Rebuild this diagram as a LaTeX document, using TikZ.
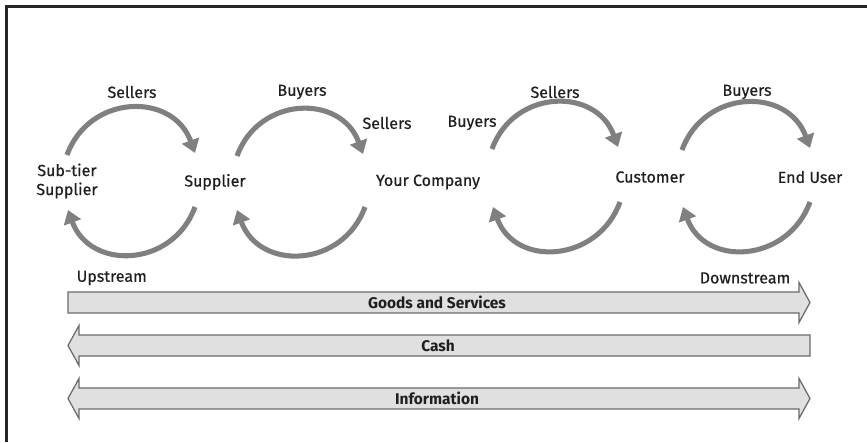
\documentclass[tikz,border=0pt]{standalone}
\usepackage{fontspec}
\setmainfont{Fira Sans}
\newfontfamily\medfont{Fira Sans}[FakeBold=0.6]
\usetikzlibrary{arrows.meta}
\definecolor{flowgray}{gray}{0.5}
\definecolor{bandfill}{gray}{0.88}
\definecolor{banddraw}{gray}{0.42}
\definecolor{textgray}{gray}{0.12}
\tikzset{
    every node/.style={
        font=\medfont\fontsize{11.4}{13.5}\selectfont,
        text=textgray,
        inner sep=1pt},
    party/.style={align=center},
    flow/.style={
        draw=flowgray,
        line width=3.6pt,
        -{Triangle[width=0.44cm,length=0.33cm]},
        looseness=1.3},
    band/.style={
        draw=banddraw,
        fill=bandfill,
        line width=0.9pt},
    bandlabel/.style={font=\fontsize{11}{13}\selectfont\bfseries}}

\begin{document}
\begin{tikzpicture}[x=0.025cm,y=0.025cm]
    \useasboundingbox (0,0) rectangle (867,442);
    \draw[line width=1.6pt,black!85] (6.5,0) -- (6.5,435.5) -- (867,435.5);

    % parties
    \node[party] (subtier) at (67,261) {Sub-tier\\Supplier};
    \node[party] (supplier) at (215,260) {Supplier};
    \node[party] (company) at (428,260) {Your Company};
    \node[party] (customer) at (650,265) {Customer};
    \node[party] (enduser) at (810,265) {End User};

    % roles
    \node (sellers1) at (132,350) {Sellers};
    \node (buyers1) at (302,350) {Buyers};
    \node (sellers2) at (387,319) {Sellers};
    \node (buyers2) at (472,319) {Buyers};
    \node (sellers3) at (555,350) {Sellers};
    \node (buyers3) at (747,350) {Buyers};

    % loop ends
    \coordinate (t1-a) at (67,287);  \coordinate (t1-b) at (195,289);
    \coordinate (b1-a) at (195,235); \coordinate (b1-b) at (68,232);
    \coordinate (t2-a) at (237,286); \coordinate (t2-b) at (363,288);
    \coordinate (b2-a) at (365,235); \coordinate (b2-b) at (237,232);
    \coordinate (t3-a) at (492,293); \coordinate (t3-b) at (618,295);
    \coordinate (b3-a) at (620,240); \coordinate (b3-b) at (493,235);
    \coordinate (t4-a) at (682,292); \coordinate (t4-b) at (810,294);
    \coordinate (b4-a) at (810,240); \coordinate (b4-b) at (683,235);

    \foreach \i in {1,...,4} {
        \draw[flow] (t\i-a) to[out=70,in=110] (t\i-b);
        \draw[flow] (b\i-a) to[out=-110,in=-70] (b\i-b);
    }

    % flows along the chain
    \node[anchor=west] (upstream) at (75,164) {Upstream};
    \node[anchor=east] (downstream) at (792,164) {Downstream};

    \draw[band] (68,150) -- (799,150) -- (799,159.5) -- (810,139.5)
        -- (799,119.5) -- (799,129) -- (68,129) -- cycle;
    \draw[band] (810,107) -- (79,107) -- (79,116.5) -- (68,96.5)
        -- (79,76.5) -- (79,86) -- (810,86) -- cycle;
    \draw[band] (68,43.5) -- (79,63.5) -- (79,54) -- (799,54) -- (799,63.5)
        -- (810,43.5) -- (799,23.5) -- (799,33) -- (79,33) -- (79,23.5) -- cycle;

    \node[bandlabel] (goods) at (437,139.5) {Goods and Services};
    \node[bandlabel] (cash) at (438,96.5) {Cash};
    \node[bandlabel] (info) at (437,43.5) {Information};
\end{tikzpicture}
\end{document}
